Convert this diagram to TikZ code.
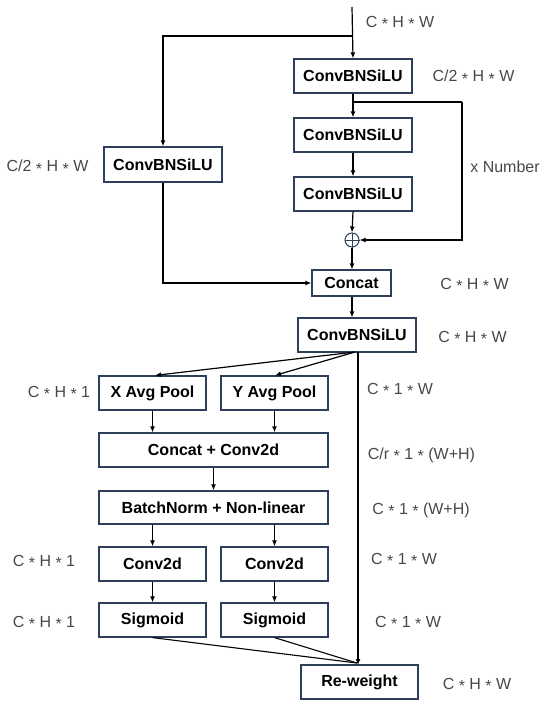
\documentclass[tikz,border=0pt]{standalone}
\usepackage{fontspec}
\setmainfont{Liberation Sans}
\usetikzlibrary{arrows.meta}
\definecolor{boxc}{HTML}{2E3F5C}
\definecolor{labc}{HTML}{484848}
\newcommand{\mul}{\raisebox{-0.3ex}{*}}
\begin{document}
\begin{tikzpicture}[x=1pt,y=-1pt,
  blk/.style={draw=boxc,line width=1.2pt,fill=white,minimum height=34pt,inner sep=0pt,
    font=\fontsize{16}{19}\selectfont\bfseries},
  lab/.style={font=\fontsize{16}{19}\selectfont,text=labc,inner sep=0pt},
  arr/.style={line width=1.2pt,-{Latex[length=6pt,width=5pt]}},
  ln/.style={line width=1.1pt}]
\useasboundingbox (0,0) rectangle (550,709);
% boxes
\node[blk,minimum width=118pt] (b1) at (353,76) {ConvBNSiLU};
\node[blk,minimum width=118pt] (b2) at (353,135) {ConvBNSiLU};
\node[blk,minimum width=118pt] (b3) at (353,194) {ConvBNSiLU};
\node[blk,minimum width=118pt,minimum height=35pt] (lb) at (163,164.5) {ConvBNSiLU};
\node[circle,draw=boxc,line width=1pt,minimum size=14pt,inner sep=0pt] (plus) at (352,240) {};
\draw[boxc,line width=1pt] (plus.north) -- (plus.south) (plus.west) -- (plus.east);
\node[blk,minimum width=79pt,minimum height=26pt] (cat) at (351.5,283) {Concat};
\node[blk,minimum width=118pt] (c4) at (357,335) {ConvBNSiLU};
\node[blk,minimum width=107pt] (xa) at (152.5,393) {X Avg Pool};
\node[blk,minimum width=107pt] (ya) at (274.5,393) {Y Avg Pool};
\node[blk,minimum width=229pt] (cc) at (213.5,450) {Concat + Conv2d};
\node[blk,minimum width=229pt,minimum height=33pt] (bn) at (213.5,507.5) {BatchNorm + Non-linear};
\node[blk,minimum width=107pt] (cl) at (152.5,564) {Conv2d};
\node[blk,minimum width=107pt] (cr) at (274.5,564) {Conv2d};
\node[blk,minimum width=107pt] (sl) at (152.5,620) {Sigmoid};
\node[blk,minimum width=107pt] (sr) at (274.5,620) {Sigmoid};
\node[blk,minimum width=117pt] (rw) at (359.5,682) {Re-weight};
% coordinates
\coordinate (top) at (352,7);
\coordinate (br) at (352,36);
\coordinate (lp) at (462,102);
\coordinate (c4o) at (355,352);
\coordinate (c4v) at (358,352);
\coordinate (rwt) at (358,665);
\coordinate (rwj) at (357,663);
% connectors
\draw[arr] (top) -- (b1.north);
\draw[arr] (br) -| (lb.north);
\draw[arr] (b1.south) -- (b2.north);
\draw[ln] (b1.south |- lp) -- (lp);
\draw[arr] (lp) |- (plus.east);
\draw[arr] (b2.south) -- (b3.north);
\draw[arr] (b3.south) -- (plus.north);
\draw[arr] (plus.south) -- (plus.south |- cat.north);
\draw[arr] (lb.south) |- (cat.west);
\draw[arr] (cat.south -| plus) -- (plus |- c4.north);
\draw[arr] (c4o) -- ([xshift=2.5pt]xa.north);
\draw[arr] (c4o) -- ([xshift=0.5pt]ya.north);
\draw[arr] (c4v) -- (rwt);
\draw[arr] (xa.south) -- (xa.south |- cc.north);
\draw[arr] (ya.south) -- (ya.south |- cc.north);
\draw[arr] (cc.south) -- (bn.north);
\draw[arr] (cl.north |- bn.south) -- (cl.north);
\draw[arr] (cr.north |- bn.south) -- (cr.north);
\draw[arr] (cl.south) -- (sl.north);
\draw[arr] (cr.south) -- (sr.north);
\draw[ln] (sl.south) -- (rwj);
\draw[ln] (sr.south) -- (rwj);
% labels
\node[lab] (l1) at (400,23) {C \mul{} H \mul{} W};
\node[lab] (l2) at (473.5,77) {C/2 \mul{} H \mul{} W};
\node[lab] (l3) at (505,167) {x Number};
\node[lab] (l4) at (47.5,167) {C/2 \mul{} H \mul{} W};
\node[lab] (l5) at (474.5,285) {C \mul{} H \mul{} W};
\node[lab] (l6) at (472.5,338) {C \mul{} H \mul{} W};
\node[lab] (l7) at (59,393) {C \mul{} H \mul{} 1};
\node[lab] (l8) at (400,390) {C \mul{} 1 \mul{} W};
\node[lab] (l9) at (421.5,455) {C/r \mul{} 1 \mul{} (W+H)};
\node[lab] (l10) at (421,510) {C \mul{} 1 \mul{} (W+H)};
\node[lab] (l11) at (44,562) {C \mul{} H \mul{} 1};
\node[lab] (l12) at (404,560) {C \mul{} 1 \mul{} W};
\node[lab] (l13) at (44,623) {C \mul{} H \mul{} 1};
\node[lab] (l14) at (408,623) {C \mul{} 1 \mul{} W};
\node[lab] (l15) at (477,685) {C \mul{} H \mul{} W};
\end{tikzpicture}
\end{document}
